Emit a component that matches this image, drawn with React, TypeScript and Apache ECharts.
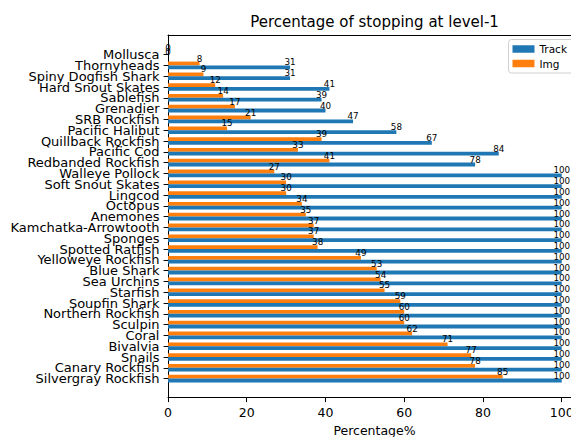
import React, { useEffect, useRef } from "react";
import * as echarts from "echarts";

const categories = [
  "Mollusca", "Thornyheads", "Spiny Dogfish Shark", "Hard Snout Skates", "Sablefish",
  "Grenadier", "SRB Rockfish", "Pacific Halibut", "Quillback Rockfish", "Pacific Cod",
  "Redbanded Rockfish", "Walleye Pollock", "Soft Snout Skates", "Lingcod", "Octopus",
  "Anemones", "Kamchatka-Arrowtooth", "Sponges", "Spotted Ratfish", "Yelloweye Rockfish",
  "Blue Shark", "Sea Urchins", "Starfish", "Soupfin Shark", "Northern Rockfish",
  "Sculpin", "Coral", "Bivalvia", "Snails", "Canary Rockfish", "Silvergray Rockfish",
];
const trackValues = [
  0, 31, 31, 41, 39, 40, 47, 58, 67, 84, 78, 100, 100, 100, 100, 100, 100, 100, 100, 100,
  100, 100, 100, 100, 100, 100, 100, 100, 100, 100, 100,
];
const imgValues = [
  0, 8, 9, 12, 14, 17, 21, 15, 39, 33, 41, 27, 30, 30, 34, 35, 37, 37, 38, 49,
  53, 54, 55, 59, 60, 60, 62, 71, 77, 78, 85,
];
const xTicks = [0, 20, 40, 60, 80, 100];

const FONT = "DejaVu Sans";
const X_MAX = 102.35;

export default function App() {
  const ref = useRef<HTMLDivElement>(null);
  useEffect(() => {
    if (!ref.current) return;
    const chart = echarts.init(ref.current, null, { renderer: "svg" });
    const labelCfg = {
      show: true,
      position: ["100%", 0] as any,
      align: "center",
      verticalAlign: "bottom",
      offset: [0, 1.5],
      fontSize: 8.75,
      fontFamily: FONT,
      color: "#000",
      formatter: "{c}",
    };
    chart.setOption({
      animation: false,
      title: {
        text: "Percentage of stopping at level-1",
        left: 374.5,
        top: 14,
        padding: 0,
        textAlign: "center",
        textStyle: { fontFamily: FONT, fontSize: 15, fontWeight: "normal", color: "#000" },
      },
      legend: {
        data: ["Track", "Img"],
        orient: "vertical",
        left: 508.5,
        top: 39.5,
        padding: [4, 30, 4, 4],
        itemWidth: 22,
        itemHeight: 7.5,
        itemGap: 3.5,
        icon: "rect",
        borderColor: "#d0d0d0",
        borderWidth: 1,
        borderRadius: 3,
        backgroundColor: "#fff",
        textStyle: { fontFamily: FONT, fontSize: 10.5, color: "#000" },
      },
      grid: [
        { left: 168, right: 0, top: 35, bottom: 39.3, outerBoundsMode: "none", containLabel: false },
        { left: 168, right: 0, top: 49.2, bottom: 53, outerBoundsMode: "none", containLabel: false },
      ],
      xAxis: [
        {
          type: "value",
          gridIndex: 0,
          min: 0,
          max: X_MAX,
          interval: 20,
          name: "Percentage%",
          nameLocation: "middle",
          nameGap: 26,
          nameTextStyle: {
            fontFamily: FONT,
            fontSize: 12.5,
            color: "#000",
            padding: [0, 0, 0, 10],
          },
          axisLine: { show: true, lineStyle: { color: "#000", width: 1 } },
          axisTick: { show: true, length: 4.4, lineStyle: { color: "#000" }, customValues: xTicks },
          axisLabel: {
            fontFamily: FONT,
            fontSize: 12.5,
            color: "#000",
            margin: 8,
            customValues: xTicks,
          },
          splitLine: { show: false },
        },
        {
          type: "value",
          gridIndex: 0,
          position: "top",
          min: 0,
          max: 1,
          axisLine: { show: true, lineStyle: { color: "#000", width: 1 } },
          axisTick: { show: false },
          axisLabel: { show: false },
          splitLine: { show: false },
        },
        {
          type: "value",
          gridIndex: 1,
          min: 0,
          max: X_MAX,
          show: false,
          splitLine: { show: false },
        },
      ],
      yAxis: [
        {
          type: "value",
          gridIndex: 0,
          min: 0,
          max: 1,
          axisLine: { show: true, lineStyle: { color: "#000", width: 1 } },
          axisTick: { show: false },
          axisLabel: { show: false },
          splitLine: { show: false },
        },
        {
          type: "category",
          gridIndex: 1,
          inverse: true,
          data: categories,
          axisLine: { show: false },
          axisTick: {
            show: true,
            alignWithLabel: true,
            length: 4.4,
            lineStyle: { color: "#000" },
          },
          axisLabel: {
            fontFamily: FONT,
            fontSize: 13,
            color: "#000",
            margin: 8.5,
            interval: 0,
          },
          splitLine: { show: false },
        },
      ],
      series: [
        {
          name: "Img",
          type: "bar",
          xAxisIndex: 2,
          yAxisIndex: 1,
          data: imgValues,
          barWidth: 3.8,
          barGap: "0%",
          itemStyle: { color: "#ff7f0e" },
          label: labelCfg,
        },
        {
          name: "Track",
          type: "bar",
          xAxisIndex: 2,
          yAxisIndex: 1,
          data: trackValues,
          barWidth: 3.8,
          barGap: "0%",
          itemStyle: { color: "#1f77b4" },
          label: labelCfg,
        },
      ],
    });
    return () => chart.dispose();
  }, []);
  return (
    <div
      ref={ref}
      style={{ position: "fixed", left: 0, top: 0, width: 571, height: 437, background: "#fff" }}
    />
  );
}
